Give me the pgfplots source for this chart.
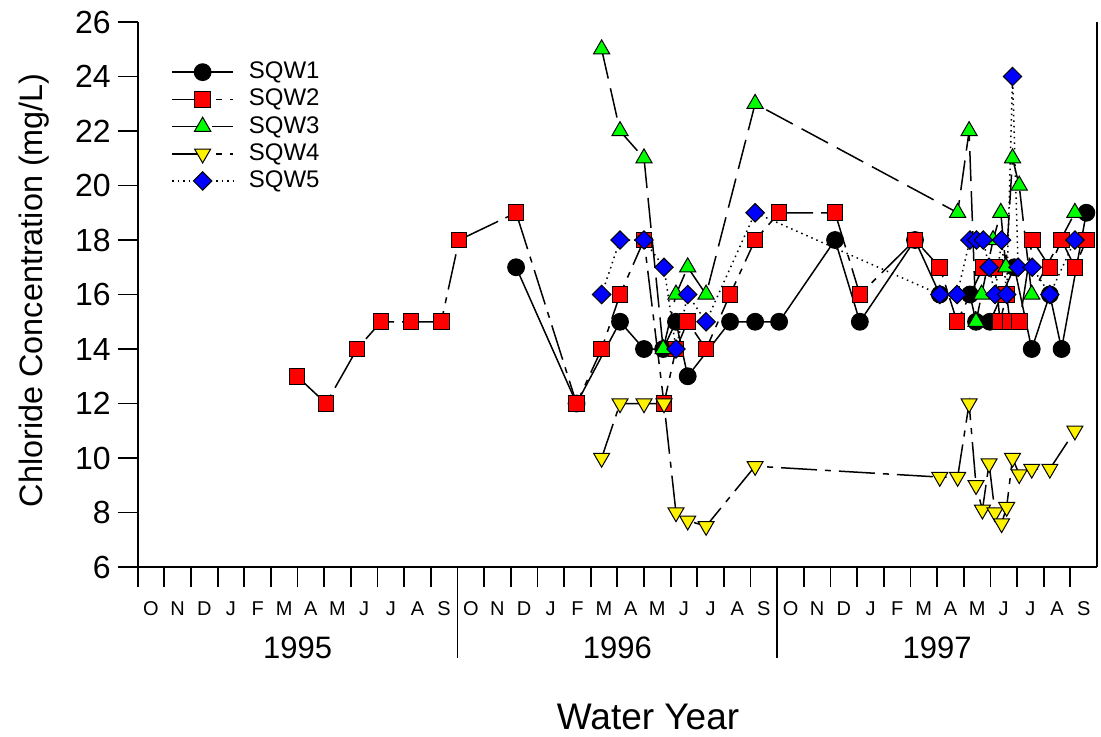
\documentclass[border=0pt]{standalone}
\usepackage{fontspec}
\setmainfont{Liberation Sans}
\usepackage{pgfplots}
\pgfplotsset{compat=1.18}
\usepackage{pgfplotstable}

\pgfplotstableread{
x y
14.2 17
16.47 12
18.1 15
19.0 14
19.72 14
20.2 15
20.64 13
22.23 15
23.17 15
24.07 15
26.17 18
27.1 15
29.17 18
30.1 16
31.23 16
31.46 15
31.98 15
32.9 17
33.55 14
34.23 16
34.67 14
35.6 19
}\sqwone

\pgfplotstableread{
x y
5.98 13
7.07 12
8.23 14
9.13 15
10.26 15
11.39 15
12.06 18
14.2 19
16.47 12
17.41 14
18.1 16
19.0 18
19.75 12
20.2 14
20.64 15
21.33 14
22.23 16
23.17 18
24.07 19
26.17 19
27.1 16
29.17 18
30.1 17
30.75 15
31.73 17
32.17 17
32.36 15
32.61 16
32.73 15
33.1 15
33.57 18
34.23 17
34.67 18
35.17 17
35.6 18
}\sqwtwo

\pgfplotstableread{
x y
17.41 25
18.1 22
19.0 21
19.72 14
20.2 16
20.64 17
21.33 16
23.17 23
30.77 19
31.2 22
31.46 15
31.67 16
32.1 18
32.39 19
32.58 17
32.83 21
33.08 20
33.55 16
35.17 19
}\sqwthree

\pgfplotstableread{
x y
17.41 10
18.1 12
19.0 12
19.75 12
20.2 8
20.64 7.7
21.33 7.5
23.17 9.7
30.1 9.3
30.77 9.3
31.2 12
31.46 9
31.7 8.1
31.95 9.8
32.17 8
32.42 7.6
32.61 8.2
32.83 10
33.08 9.4
33.55 9.6
34.23 9.6
35.17 11
}\sqwfour

\pgfplotstableread{
x y
17.41 16
18.1 18
19.0 18
19.75 17
20.2 14
20.64 16
21.33 15
23.17 19
30.1 16
30.75 16
31.23 18
31.48 18
31.73 18
31.95 17
32.17 16
32.42 18
32.61 16
32.83 24
33.04 17
33.57 17
34.23 16
35.17 18
}\sqwfive

\begin{document}
\begin{tikzpicture}
\path[use as bounding box] (-68.85pt,-84.5pt) rectangle (481.65pt,283.5pt);
\begin{axis}[
  at={(0pt,0pt)}, anchor=south west,
  scale only axis,
  width=479.65pt, height=272.5pt,
  xmin=0, xmax=36, ymin=6, ymax=26,
  axis lines*=left,
  axis line style={-, line width=0.9pt},
  clip=false,
  tick align=outside,
  major tick length=10pt,
  minor tick length=10pt,
  tick style={line width=0.9pt, black},
  ytick={6,8,...,26},
  xtick={0.5,1.5,...,35.5},
  xticklabels={O,N,D,J,F,M,A,M,J,J,A,S,O,N,D,J,F,M,A,M,J,J,A,S,O,N,D,J,F,M,A,M,J,J,A,S},
  major x tick style={draw=none},
  minor xtick={0,1,...,35},
  /pgf/number format/assume math mode=true,
  yticklabel style={font=\fontsize{16}{18}\selectfont},
  xticklabel style={font=\fontsize{10}{12}\selectfont, anchor=base, yshift=-14.3pt},
  xlabel={Water Year},
  ylabel={Chloride Concentration (mg/L)},
  every axis x label/.style={at={(axis description cs:0.532,-0.2752)}, anchor=center, font=\fontsize{18.5}{22}\selectfont},
  every axis y label/.style={at={(axis description cs:-0.1084,0.508)}, anchor=center, rotate=90, font=\fontsize{16.2}{19}\selectfont},
  legend image code/.code={\draw[mark repeat=2,mark phase=2,#1] plot coordinates {(0pt,0pt) (15.25pt,0pt) (30.5pt,0pt)};},
  legend style={at={(axis description cs:0.0347,0.930)}, anchor=north west, draw=none, fill=none, inner sep=0pt,
    row sep=2.0pt, font=\fontsize{12}{14}\selectfont,
    nodes={inner sep=0.5pt, text height=8.6pt, text depth=2pt},
    /tikz/every odd column/.style={column sep=7pt}},
  legend cell align=left,
  every axis plot/.append style={line width=0.75pt},
]
\addplot[black, mark=*, mark size=4.2pt, mark options={solid, draw=black, fill=black, line width=0.5pt}] table[x=x,y=y] {\sqwone};
\addlegendentry{SQW1}
\addplot[black, dash pattern=on 18pt off 4pt on 3pt off 4pt, mark=square*, mark size=3.9pt, mark options={solid, draw=black, fill=red, line width=0.5pt}] table[x=x,y=y] {\sqwtwo};
\addlegendentry{SQW2}
\addplot[black, dash pattern=on 15pt off 5pt, mark=triangle*, mark size=4.7pt, mark options={solid, draw=black, fill=green, line width=0.5pt}] table[x=x,y=y] {\sqwthree};
\addlegendentry{SQW3}
\addplot[black, dash pattern=on 18pt off 4pt on 3pt off 4pt, mark=triangle*, mark size=4.6pt, mark options={solid, draw=black, fill=yellow, line width=0.5pt, rotate=180}] table[x=x,y=y] {\sqwfour};
\addlegendentry{SQW4}
\addplot[black, dotted, mark=square*, mark size=3.25pt, mark options={solid, draw=black, fill=blue, line width=0.5pt, rotate=45}] table[x=x,y=y] {\sqwfive};
\addlegendentry{SQW5}
\draw[line width=0.9pt] (rel axis cs:1,0) -- (rel axis cs:1,1);
\draw[line width=0.9pt] (axis cs:12,6) -- ++(0pt,-45.5pt);
\draw[line width=0.9pt] (axis cs:24,6) -- ++(0pt,-45.5pt);
\node[font=\fontsize{15.5}{18}\selectfont] at ([yshift=-40.5pt]axis cs:6,6) {1995};
\node[font=\fontsize{15.5}{18}\selectfont] at ([yshift=-40.5pt]axis cs:18,6) {1996};
\node[font=\fontsize{15.5}{18}\selectfont] at ([yshift=-40.5pt]axis cs:30,6) {1997};
\end{axis}
\end{tikzpicture}
\end{document}
